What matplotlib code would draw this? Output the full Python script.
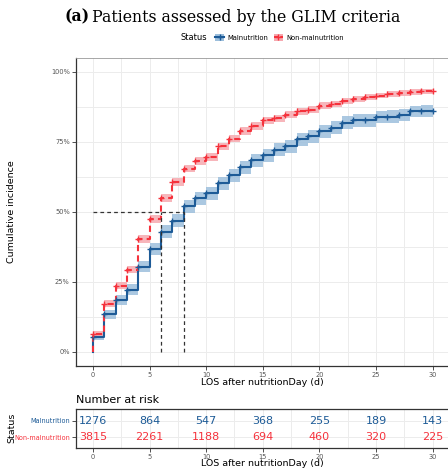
import numpy as np
import matplotlib.pyplot as plt
from matplotlib.lines import Line2D
from matplotlib.patches import Patch
from matplotlib.offsetbox import HPacker
from matplotlib.ticker import FuncFormatter, MultipleLocator

# cumulative incidence by day since nutritionDay
days = list(range(0, 31))
mal_ci = [0.053, 0.133, 0.184, 0.222, 0.303, 0.368, 0.429, 0.468, 0.520, 0.548,
          0.566, 0.601, 0.630, 0.658, 0.683, 0.702, 0.722, 0.734, 0.758, 0.769,
          0.787, 0.800, 0.818, 0.826, 0.826, 0.838, 0.840, 0.846, 0.858, 0.860,
          0.860]
non_ci = [0.065, 0.172, 0.236, 0.293, 0.402, 0.474, 0.548, 0.606, 0.654, 0.681,
          0.696, 0.734, 0.761, 0.788, 0.806, 0.826, 0.834, 0.846, 0.858, 0.865,
          0.879, 0.885, 0.894, 0.903, 0.909, 0.915, 0.921, 0.924, 0.927, 0.931,
          0.932]
# half width of the 95% band
mal_hw = [0.010, 0.015, 0.017, 0.018, 0.020, 0.021, 0.022, 0.022, 0.023, 0.023,
          0.023, 0.023, 0.023, 0.023, 0.023, 0.023, 0.023, 0.023, 0.023, 0.023,
          0.023, 0.023, 0.023, 0.022, 0.022, 0.022, 0.022, 0.022, 0.021, 0.021,
          0.021]
non_hw = [0.008, 0.011, 0.012, 0.013, 0.013, 0.014, 0.014, 0.014, 0.014, 0.014,
          0.014, 0.013, 0.013, 0.013, 0.013, 0.012, 0.012, 0.012, 0.012, 0.011,
          0.011, 0.011, 0.011, 0.010, 0.010, 0.010, 0.010, 0.010, 0.010, 0.009,
          0.009]
medians = [6, 8]

risk_times = [0, 5, 10, 15, 20, 25, 30]
risk_mal = [1276, 864, 547, 368, 255, 189, 143]
risk_non = [3815, 2261, 1188, 694, 460, 320, 225]

blue = '#1d5b97'
blue_fill = '#9dbfdc'
red = '#f5323c'
red_fill = '#f6a9b0'
grid_c = '#ececec'
tick_c = '#555555'

fig = plt.figure(figsize=(4.48, 4.71), dpi=100)
W, H = 448, 471
ax = fig.add_axes([76 / W, 1 - 365.7 / H, (449.6 - 76) / W, (365.7 - 57.7) / H])

for vals, hw, col, fill, ls in [(mal_ci, mal_hw, blue, blue_fill, '-'),
                                (non_ci, non_hw, red, red_fill, (0, (3, 2)))]:
    v = np.array(vals)
    h = np.array(hw)
    ax.fill_between(days, v - h, v + h, step='post', color=fill, alpha=0.85,
                    lw=0, zorder=2)
    xs = [0] + days
    ys = [0] + vals
    ax.step(xs, ys, where='post', color=col, lw=1.5, ls=ls, zorder=4)
    ax.plot(days, vals, ls='none', marker='+', ms=5, mew=1.0, color=col,
            zorder=5)

# median lines
ax.plot([0, max(medians)], [0.5, 0.5], ls=(0, (3, 2.5)), color='#333333',
        lw=0.9, zorder=6)
for m in medians:
    ax.plot([m, m], [0, 0.5], ls=(0, (3, 2.5)), color='#333333', lw=0.9,
            zorder=6)

ax.set_xlim(-1.5, 31.5)
ax.set_ylim(-0.05, 1.05)
ax.xaxis.set_major_locator(MultipleLocator(5))
ax.xaxis.set_minor_locator(MultipleLocator(2.5))
ax.yaxis.set_major_locator(MultipleLocator(0.25))
ax.yaxis.set_minor_locator(MultipleLocator(0.125))
ax.yaxis.set_major_formatter(FuncFormatter(lambda v, p: f'{v * 100:.0f}%'))
ax.grid(which='both', color=grid_c, lw=0.7, zorder=0)
ax.tick_params(which='minor', length=0)
ax.tick_params(which='major', labelsize=4.8, labelcolor=tick_c, color='#333333',
               length=3, width=0.6, pad=1.5)
for s in ['top', 'right']:
    ax.spines[s].set_color('#999999')
    ax.spines[s].set_linewidth(0.6)
for s in ['left', 'bottom']:
    ax.spines[s].set_color('#333333')
    ax.spines[s].set_linewidth(0.9)
ax.set_axisbelow(True)

fig.text(12 / W, 1 - 211.7 / H, 'Cumulative incidence', rotation=90,
         ha='center', va='center', fontsize=6.8)
fig.text(262.8 / W, 1 - 382.5 / H, 'LOS after nutritionDay (d)', ha='center',
         va='center', fontsize=6.8)

# title: bold panel letter followed by the plain text
t1 = fig.text(64 / W, 1 - 17 / H, '(a)', ha='left', va='center',
              fontsize=11.3, family='DejaVu Serif', weight='bold')
fig.canvas.draw()
bb = t1.get_window_extent()
fig.text((bb.x1 + 3) / W, 1 - 17 / H, 'Patients assessed by the GLIM criteria',
         ha='left', va='center', fontsize=11.3, family='DejaVu Serif')

handles = [(Patch(facecolor=blue_fill, edgecolor='none'),
            Line2D([], [], color=blue, lw=1.5, marker='+', ms=5)),
           (Patch(facecolor=red_fill, edgecolor='none'),
            Line2D([], [], color=red, lw=1.5, ls=(0, (2, 1)), marker='+', ms=5))]
leg = fig.legend(handles, ['Malnutrition', 'Non-malnutrition'], title='Status',
                 loc='center', bbox_to_anchor=(262 / W, 1 - 37.5 / H), ncol=3,
                 frameon=False, fontsize=4.9, title_fontsize=6,
                 handlelength=1.3, handleheight=1.2, handletextpad=0.5,
                 columnspacing=0.8, borderpad=0)
# put the title to the left of the keys
box = leg._legend_box
box.__class__ = HPacker
box.sep = 6
box.align = 'center'

# number at risk table
rt = fig.add_axes([76 / W, 1 - 447.7 / H, (449.6 - 76) / W, (447.7 - 409) / H])
for t, n in zip(risk_times, risk_mal):
    rt.text(t, 2, str(n), ha='center', va='center', color=blue, fontsize=8)
for t, n in zip(risk_times, risk_non):
    rt.text(t, 1, str(n), ha='center', va='center', color=red, fontsize=8)
rt.set_xlim(-1.5, 31.5)
rt.set_ylim(0.37, 2.70)
rt.set_yticks([2, 1])
rt.set_yticklabels(['Malnutrition', 'Non-malnutrition'])
rt.xaxis.set_major_locator(MultipleLocator(5))
rt.xaxis.set_minor_locator(MultipleLocator(2.5))
rt.grid(which='both', axis='x', color=grid_c, lw=0.7, zorder=0)
rt.grid(which='major', axis='y', color=grid_c, lw=0.7, zorder=0)
rt.tick_params(which='minor', length=0)
rt.tick_params(which='major', labelsize=4.8, color='#333333', length=3,
               width=0.6, pad=1.5)
rt.tick_params(axis='y', labelsize=4.7)
rt.tick_params(axis='x', labelcolor=tick_c)
for lab, col in zip(rt.get_yticklabels(), [blue, red]):
    lab.set_color(col)
for s in rt.spines.values():
    s.set_color('#333333')
    s.set_linewidth(0.9)
rt.set_axisbelow(True)
fig.text(76 / W, 1 - 400 / H, 'Number at risk', ha='left', va='center',
         fontsize=8)
fig.text(12 / W, 1 - 428 / H, 'Status', rotation=90, ha='center', va='center',
         fontsize=6.8)
fig.text(262.8 / W, 1 - 464 / H, 'LOS after nutritionDay (d)', ha='center',
         va='center', fontsize=6.8)

fig.savefig('out.png', dpi=100)
